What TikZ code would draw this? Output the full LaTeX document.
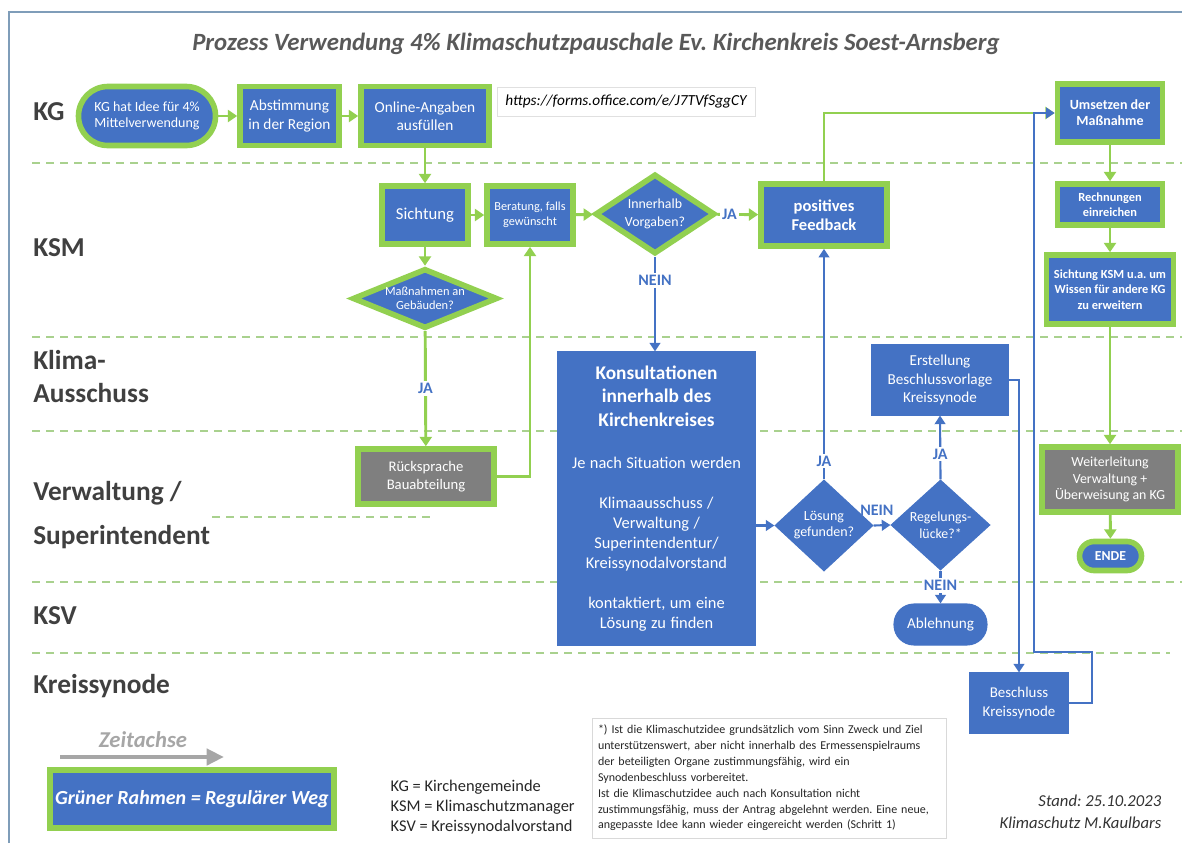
\documentclass[tikz,border=0pt]{standalone}
\usepackage{fontspec}
\setmainfont{Carlito}
\usetikzlibrary{shapes.geometric,arrows.meta}
\definecolor{cblue}{HTML}{4472C4}
\definecolor{cgreen}{HTML}{92D050}
\definecolor{cdash}{HTML}{A9D18E}
\definecolor{cgray}{HTML}{7F7F7F}
\definecolor{ctext}{HTML}{404040}
\definecolor{cframe}{HTML}{7F9DB9}
\definecolor{carrowgray}{HTML}{A6A6A6}
\frenchspacing
\begin{document}
\begin{tikzpicture}[x=0.75pt,y=-0.75pt,
  sz/.style 2 args={minimum width=#1*0.75pt,minimum height=#2*0.75pt},
  fs/.style 2 args={font=\fontsize{#1}{#2}\selectfont},
  fsb/.style 2 args={font=\fontsize{#1}{#2}\selectfont\bfseries},
  bnode/.style={rectangle,fill=cblue,draw=cblue,line width=0.8pt,text=white,align=center,inner sep=0pt},
  gframe/.style={draw=cgreen,line width=4.2pt},
  graynode/.style={bnode,fill=cgray,draw=cgray},
  dia/.style={bnode,diamond,aspect=1.5},
  garr/.style={draw=cgreen,line width=2.2pt,-{Triangle[length=7pt,width=9pt]}},
  barr/.style={draw=cblue,line width=1.6pt,-{Triangle[length=6.5pt,width=8pt]}},
  lbl/.style={fill=white,text=cblue,font=\fontsize{12}{14}\selectfont\bfseries,inner sep=1.5pt},
  lane/.style={anchor=west,text=ctext,align=left,inner sep=0pt},
  lanesep/.style={draw=cdash,line width=1.1pt,dash pattern=on 6pt off 4.5pt}]
\useasboundingbox (0,0) rectangle (1182,843);
% frame
\draw[cframe,line width=1.4pt] (9,843) -- (9,12) -- (1182,12);
% lane separators
\draw[lanesep] (32,163) -- (1182,163);
\draw[lanesep] (32,337) -- (1182,337);
\draw[lanesep] (32,431) -- (1182,431);
\draw[lanesep] (212,517) -- (430,517);
\draw[lanesep] (32,582) -- (1182,582);
\draw[lanesep] (32,653) -- (1170,653);
% title
\node[text=black!65,font=\fontsize{18.6}{22}\selectfont\bfseries\itshape] (title) at (596,44) {Prozess Verwendung 4\% Klimaschutzpauschale Ev. Kirchenkreis Soest-Arnsberg};
% lane labels
\node[lane,fsb={20.5}{24}] (lkg) at (33,112) {KG};
\node[lane,fsb={20.5}{24}] (lksm) at (33,248) {KSM};
\node[lane,fsb={20.5}{24.75}] (lklima) at (33,376.5) {Klima-\\Ausschuss};
\node[lane,fsb={20.5}{33}] (lverw) at (33,515) {Verwaltung /\\Superintendent};
\node[lane,fsb={20.5}{24}] (lksv) at (33,616) {KSV};
\node[lane,fsb={20.5}{24}] (lks) at (33,686) {Kreissynode};
% nodes
\node[bnode,gframe,sz={137}{59},rounded corners=22pt,fs={10.5}{12}] (start) at (147,116) {KG hat Idee für 4\%\\Mittelverwendung};
\node[bnode,gframe,sz={99}{59},fs={11.5}{14}] (abst) at (289.5,116) {Abstimmung\\in der Region};
\node[bnode,gframe,sz={128}{59},fs={11.5}{13.75}] (online) at (425,116) {Online-Angaben\\ausfüllen};
\node[draw=black!12,fill=white,line width=0.6pt,sz={258}{29},font=\fontsize{11.5}{14}\selectfont\itshape] (url) at (626,101.5) {https://forms.office.com/e/J7TVfSggCY};
\node[bnode,gframe,sz={86}{58},fs={12.5}{15}] (sicht) at (425,215) {Sichtung};
\node[bnode,gframe,sz={86}{58},fs={9.2}{11.5}] (berat) at (530,215) {Beratung, falls\\gewünscht};
\node[dia,gframe,sz={120}{80},fs={10.4}{13.25}] (inner) at (655,214) {Innerhalb\\Vorgaben?};
\node[bnode,gframe,sz={126}{62},fsb={12.4}{14.5}] (fb) at (824,215) {positives\\Feedback};
\node[bnode,gframe,sz={105}{58},fsb={10.5}{12}] (ums) at (1110,113) {Umsetzen der\\Maßnahme};
\node[bnode,gframe,sz={105}{41},fsb={9.3}{11.25}] (rech) at (1110,204.5) {Rechnungen\\einreichen};
\node[bnode,gframe,sz={127}{69},fsb={9.3}{11.5}] (sksm) at (1110,289.5) {Sichtung KSM u.a. um\\Wissen für andere KG\\zu erweitern};
\node[dia,gframe,aspect=2.4,sz={145}{60},fs={9.3}{10.5}] (mass) at (425,298.5) {Maßnahmen an\\Gebäuden?};
\node[graynode,gframe,sz={136}{55},fs={11}{14}] (rueck) at (426,476.5) {Rücksprache\\Bauabteilung};
\node[bnode,sz={197}{293},text width=142.5pt] (kons) at (656.5,498.5) {{\fontsize{14.5}{17.6}\selectfont\bfseries Konsultationen\\innerhalb des\\Kirchenkreises\par}\vspace{16.5pt}{\fontsize{12.3}{15}\selectfont Je nach Situation werden\par}\vspace{15pt}{\fontsize{12.3}{15}\selectfont Klimaausschuss /\\Verwaltung /\\Superintendentur/\\Kreissynodalvorstand\par}\vspace{15pt}{\fontsize{12.3}{15}\selectfont kontaktiert, um eine\\Lösung zu finden\par}};
\node[dia,aspect=1.1,sz={98}{91},fs={10.5}{12}] (loes) at (824,525.5) {Lösung\\gefunden?};
\node[dia,aspect=1.1,sz={99}{90},fs={10.4}{12.5}] (regel) at (940.5,525) {Regelungs-\\lücke?*};
\node[bnode,sz={136}{70},fs={11.4}{13.75}] (erst) at (940,380) {Erstellung\\Beschlussvorlage\\Kreissynode};
\node[bnode,sz={93}{41},rounded corners=15pt,fs={11.4}{13}] (abl) at (940.5,624.5) {Ablehnung};
\node[bnode,sz={98}{60},fs={11.2}{13.75}] (besch) at (1019,703) {Beschluss\\Kreissynode};
\node[graynode,gframe,sz={136}{65},fs={10.4}{12.5}] (weit) at (1110,479.5) {Weiterleitung\\Verwaltung +\\Überweisung an KG};
\node[bnode,gframe,sz={62}{29},rounded corners=10.9pt,fsb={10.3}{12}] (ende) at (1110.5,556) {ENDE};
% green connectors
\draw[garr] (start) -- (abst);
\draw[garr] (abst) -- (online);
\draw[garr] (online) -- (sicht);
\draw[garr] (sicht) -- (berat);
\draw[garr] (berat) -- (inner);
\draw[garr] (inner) -- node[lbl,pos=0.3]{JA} (fb);
\draw[garr] (sicht) -- (mass);
\draw[garr] (mass) -- node[lbl]{JA} (rueck);
\draw[garr] (rueck.east) -| (berat.south);
\draw[garr] (fb.north) |- (ums.west);
\draw[garr] (ums) -- (rech);
\draw[garr] (rech) -- (sksm);
\draw[garr] (sksm) -- (weit);
\draw[garr] (weit) -- (ende);
% blue connectors
\draw[barr] (inner.south) -- node[lbl,pos=0.25]{NEIN} (inner.south |- kons.north);
\draw[barr] (kons.east |- loes.west) -- (loes.west);
\draw[barr] (loes.east) -- node[text=cblue,font=\fontsize{12}{14}\selectfont\bfseries,above=3pt,pos=0.2]{NEIN} (regel.west);
\draw[barr] (loes.north) -- node[lbl,pos=0.08]{JA} (fb.south);
\draw[barr] (regel.north) -- node[lbl,pos=0.4]{JA} (erst.south);
\draw[barr] (regel.south) -- node[lbl,pos=0.45]{NEIN} (abl.north);
\draw[barr] (erst.east) -| (besch.north);
\coordinate (c1) at (1092,652);
\coordinate (c2) at (1034,652);
\draw[barr] (besch.east) -| (c1) -- (c2) |- (ums.west);
% legend
\node[text=carrowgray,font=\fontsize{17}{20}\selectfont\bfseries\itshape] (zeit) at (143,740) {Zeitachse};
\coordinate (za) at (60,757);
\coordinate (zb) at (224,757);
\draw[carrowgray,line width=3.5pt,-{Triangle[length=13pt,width=12pt]}] (za) -- (zb);
\node[bnode,gframe,sz={284}{58},font=\fontsize{15}{18}\selectfont\bfseries\itshape] (legend) at (192,799) {Grüner Rahmen = Regulärer Weg};
\node[anchor=west,align=left,text=black!85,fs={12.3}{15}] (abbr) at (386,807) {KG = Kirchengemeinde\\KSM = Klimaschutzmanager\\KSV = Kreissynodalvorstand};
\node[draw=black!15,fill=white,line width=0.6pt,sz={354}{120},inner xsep=4.5pt,align=left,text width=256.5pt,text=black!85,fs={9}{11.9}] (fn) at (769,778) {*) Ist die Klimaschutzidee grundsätzlich vom Sinn Zweck und Ziel\\unterstützenswert, aber nicht innerhalb des Ermessenspielraums\\der beteiligten Organe zustimmungsfähig, wird ein\\Synodenbeschluss vorbereitet.\\Ist die Klimaschutzidee auch nach Konsultation nicht\\zustimmungsfähig, muss der Antrag abgelehnt werden. Eine neue,\\angepasste Idee kann wieder eingereicht werden (Schritt 1)};
\node[anchor=east,align=right,text=black!80,font=\fontsize{12.5}{16.5}\selectfont\itshape] (stand) at (1166,812) {Stand: 25.10.2023\\Klimaschutz M.Kaulbars};
\end{tikzpicture}
\end{document}
